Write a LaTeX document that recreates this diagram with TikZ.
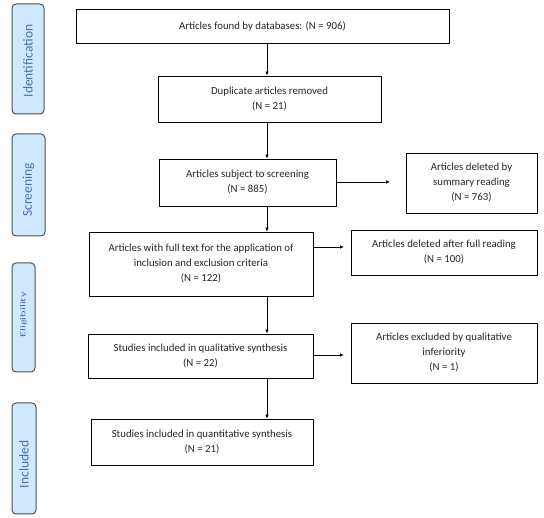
\documentclass[tikz,border=0pt]{standalone}
\usepackage{fontspec}
\setmainfont{Carlito}
\usetikzlibrary{arrows.meta}
\definecolor{lblfill}{HTML}{CFE8FB}
\definecolor{lbltext}{HTML}{4A72A6}
\definecolor{lblborder}{HTML}{505050}
\definecolor{txt}{HTML}{262626}
\tikzset{
  box/.style={draw=black, line width=0.8pt, fill=white, inner sep=0pt, align=center,
    font=\fontsize{10.8}{15}\selectfont, text=txt},
  phase/.style={draw=lblborder, line width=1pt, fill=lblfill, rounded corners=4pt, inner sep=0pt,
    text=lbltext},
  phtext/.style={rotate=90, text=lbltext, inner sep=0pt, font=\fontsize{13.5}{15}\selectfont},
  arr/.style={line width=0.8pt, -{Latex[length=4pt,width=3.6pt]}},
}
\begin{document}
\begin{tikzpicture}[x=1pt,y=-1pt]
\useasboundingbox (0,0) rectangle (544,518);
% phase labels
\node[phase, minimum width=32pt, minimum height=110pt] (pid) at (28,59) {};
\node[phtext] (tid) at (28,61) {Identification};
\node[phase, minimum width=33pt, minimum height=102pt] (psc) at (28.5,185) {};
\node[phtext] (tsc) at (28.5,190) {Screening};
\node[phase, minimum width=23pt, minimum height=109pt] (pel) at (23.5,317.5) {};
\node[phtext] (tel) at (23.5,315) {\scalebox{1}[0.6]{\fontsize{12.5}{14}\selectfont Eligibility}};
\node[phase, minimum width=24pt, minimum height=111pt] (pin) at (24,458.5) {};
\node[phtext] (tin) at (24,464.5) {Included};
% boxes
\node[box, minimum width=373pt, minimum height=34pt] (b1) at (262.5,26) {Articles found by databases: (N = 906)};
\node[box, minimum width=223pt, minimum height=46pt] (b2) at (269.5,99) {Duplicate articles removed\\(N = 21)};
\node[box, minimum width=177pt, minimum height=47pt] (b3) at (247.5,182.5) {Articles subject to screening\\(N = 885)};
\node[box, minimum width=131pt, minimum height=60pt] (b3r) at (471.5,183) {Articles deleted by\\summary reading\\(N = 763)};
\node[box, minimum width=224pt, minimum height=64pt] (b4) at (201,264) {Articles with full text for the application of\\inclusion and exclusion criteria\\(N = 122)};
\node[box, minimum width=186pt, minimum height=45pt] (b4r) at (444,252.5) {Articles deleted after full reading\\(N = 100)};
\node[box, minimum width=225pt, minimum height=44pt] (b5) at (200.5,356) {Studies included in qualitative synthesis\\(N = 22)};
\node[box, minimum width=186pt, minimum height=60pt] (b5r) at (444,353) {Articles excluded by qualitative\\inferiority\\(N = 1)};
\node[box, minimum width=222pt, minimum height=46pt] (b6) at (202,442) {Studies included in quantitative synthesis\\(N = 21)};
% connectors
\coordinate (vx) at (267,0);
\draw[arr] (vx |- b1.south) -- (vx |- b2.north);
\draw[arr] (vx |- b2.south) -- (vx |- b3.north);
\draw[arr] (vx |- b3.south) -- (vx |- b4.north);
\draw[arr] (vx |- b4.south) -- (vx |- b5.north);
\draw[arr] (vx |- b5.south) -- (vx |- b6.north);
\coordinate (e3) at (390,182);
\coordinate (e4) at (344,247);
\coordinate (e5) at (344,355);
\draw[arr] (b3.east |- e3) -- (e3);
\draw[arr] (b4.east |- e4) -- (e4);
\draw[arr] (b5.east |- e5) -- (e5);
\end{tikzpicture}
\end{document}
